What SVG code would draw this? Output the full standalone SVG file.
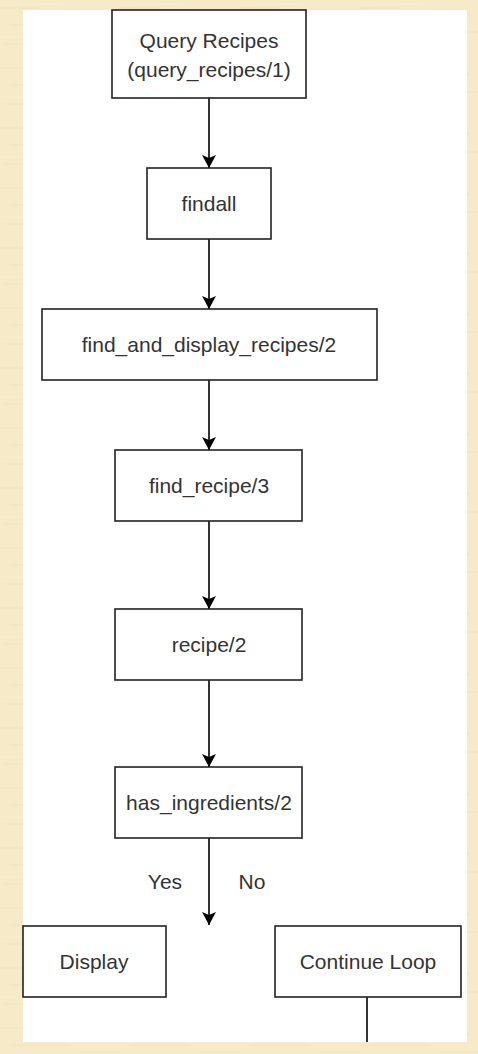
<svg xmlns="http://www.w3.org/2000/svg" width="478" height="1054" viewBox="0 0 478 1054">
<style>
.box{fill:#fff;stroke:#222;stroke-width:1.6}
.t{font-family:"Liberation Sans",Arial,sans-serif;font-size:21px;fill:#333;text-anchor:middle}
.c{stroke:#000;stroke-width:1.6;fill:none}
</style>
<defs>
<marker id="ah" markerWidth="14" markerHeight="14" refX="13" refY="7" orient="auto" markerUnits="userSpaceOnUse">
<path d="M0,0 L13,7 L0,14 L3,7 Z" fill="#000"/>
</marker>
<pattern id="parch" width="120" height="60" patternUnits="userSpaceOnUse">
<rect width="120" height="60" fill="#f6eac8"/>
<path d="M0,8 H40 M55,14 H110 M10,25 H70 M80,32 H120 M5,44 H50 M60,51 H105" stroke="#ecdfb8" stroke-width="1.2" opacity="0.6"/>
<path d="M20,4 H60 M70,20 H100 M0,37 H30 M40,57 H90" stroke="#faf2da" stroke-width="1.2" opacity="0.7"/>
</pattern>
</defs>
<rect width="478" height="1054" fill="url(#parch)"/>
<rect x="23" y="10" width="444" height="1032" fill="#fff"/>

<g id="connectors">
<line class="c" x1="209" y1="98" x2="209" y2="168" marker-end="url(#ah)"/>
<line class="c" x1="209" y1="239" x2="209" y2="309" marker-end="url(#ah)"/>
<line class="c" x1="209" y1="380" x2="209" y2="450" marker-end="url(#ah)"/>
<line class="c" x1="209" y1="521" x2="209" y2="609" marker-end="url(#ah)"/>
<line class="c" x1="209" y1="680" x2="209" y2="767" marker-end="url(#ah)"/>
<line class="c" x1="209" y1="838" x2="209" y2="925" marker-end="url(#ah)"/>
<line class="c" x1="367" y1="997" x2="367" y2="1042"/>
<text class="t" x="165" y="889">Yes</text>
<text class="t" x="252" y="889">No</text>
</g>

<g id="n-query">
<rect class="box" x="112" y="10" width="194" height="88"/>
<text class="t" x="209" y="48">Query Recipes</text>
<text class="t" x="209" y="77">(query_recipes/1)</text>
</g>
<g id="n-findall">
<rect class="box" x="147" y="168" width="124" height="71"/>
<text class="t" x="209" y="211">findall</text>
</g>
<g id="n-fadr">
<rect class="box" x="42" y="309" width="335" height="71"/>
<text class="t" x="209" y="352">find_and_display_recipes/2</text>
</g>
<g id="n-findrecipe">
<rect class="box" x="115" y="450" width="187" height="71"/>
<text class="t" x="209" y="493">find_recipe/3</text>
</g>
<g id="n-recipe">
<rect class="box" x="115" y="609" width="187" height="71"/>
<text class="t" x="209" y="652">recipe/2</text>
</g>
<g id="n-hasing">
<rect class="box" x="115" y="767" width="187" height="71"/>
<text class="t" x="209" y="810">has_ingredients/2</text>
</g>
<g id="n-display">
<rect class="box" x="23" y="926" width="143" height="71"/>
<text class="t" x="94" y="969">Display</text>
</g>
<g id="n-continue">
<rect class="box" x="275" y="926" width="186" height="71"/>
<text class="t" x="368" y="969">Continue Loop</text>
</g>
</svg>
